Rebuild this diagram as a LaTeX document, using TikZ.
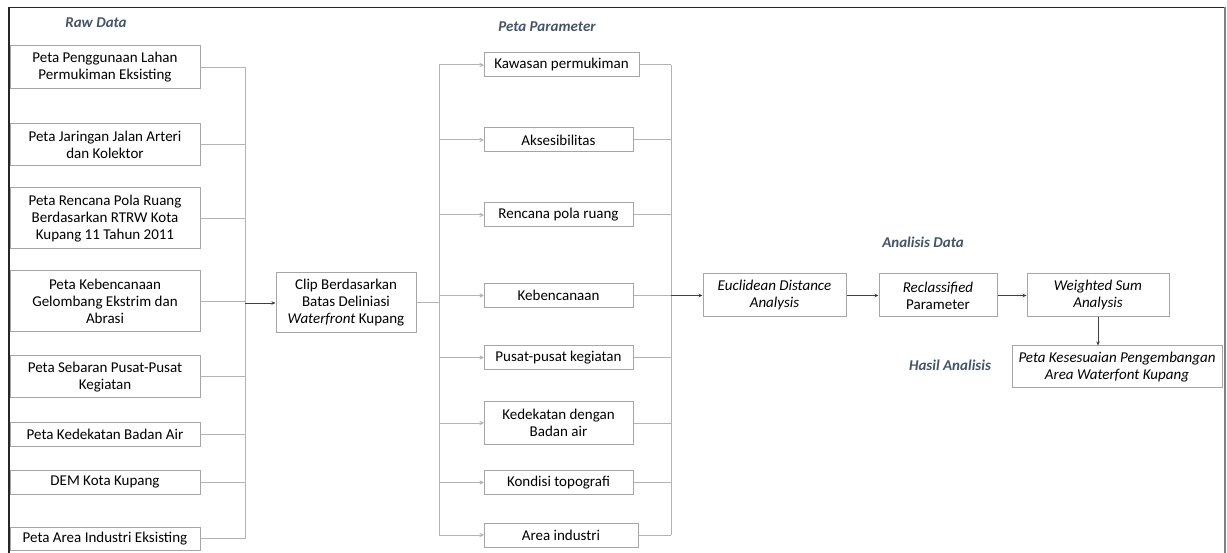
\documentclass[tikz,border=0pt]{standalone}
\usepackage{fontspec}
\setmainfont{Carlito}
\usetikzlibrary{arrows.meta}
\definecolor{lbl}{HTML}{44546A}
\definecolor{bord}{HTML}{A6A6A6}
\definecolor{conn}{HTML}{B4B4B4}
\begin{document}
\begin{tikzpicture}[x=1pt,y=-1pt,
  box/.style={draw=bord,line width=1pt,fill=white,align=center,inner sep=0pt,
    font=\fontsize{15}{17}\selectfont},
  lab/.style={text=lbl,font=\fontsize{15}{17}\selectfont\bfseries\itshape},
  con/.style={draw=conn,line width=1pt},
  garr/.style={con,-{To[length=4pt,width=4pt]}},
  darr/.style={draw=black!75,line width=0.8pt,-{Stealth[length=4pt,width=3.5pt]}}]
\useasboundingbox (0,0) rectangle (1227,553);
\fill[white] (0,0) rectangle (1227,553);
% frame
\draw[black!85,line width=1.3pt] (9,553) -- (9,7.5) -- (1225,7.5);
\draw[gray,line width=2pt] (1225,7) -- (1225,553);
% labels
\node[lab] (lraw) at (96,23) {Raw Data};
\node[lab] (lpar) at (547,27) {Peta Parameter};
\node[lab] (lana) at (923,242) {Analisis Data};
\node[lab] (lhas) at (950,365) {Hasil Analisis};
% raw data boxes
\node[box,minimum width=190,minimum height=43] (b1) at (105,67.5) {Peta Penggunaan Lahan\\Permukiman Eksisting};
\node[box,minimum width=190,minimum height=42] (b2) at (105,145) {Peta Jaringan Jalan Arteri\\dan Kolektor};
\node[box,minimum width=190,minimum height=61] (b3) at (105,218.5) {Peta Rencana Pola Ruang\\Berdasarkan RTRW Kota\\Kupang 11 Tahun 2011};
\node[box,minimum width=190,minimum height=61] (b4) at (105,301.5) {Peta Kebencanaan\\Gelombang Ekstrim dan\\Abrasi};
\node[box,minimum width=190,minimum height=42] (b5) at (105,377) {Peta Sebaran Pusat-Pusat\\Kegiatan};
\node[box,minimum width=190,minimum height=24] (b6) at (105,434) {Peta Kedekatan Badan Air};
\node[box,minimum width=190,minimum height=24] (b7) at (105,482) {DEM Kota Kupang};
\node[box,minimum width=190,minimum height=23] (b8) at (105,538.5) {Peta Area Industri Eksisting};
% clip
\node[box,minimum width=140,minimum height=60] (clip) at (346,303) {Clip Berdasarkan\\Batas Deliniasi\\\textit{Waterfront} Kupang};
% parameter boxes
\node[box,minimum width=155,minimum height=24] (p1) at (561.5,65) {Kawasan permukiman};
\node[box,minimum width=149,minimum height=24] (p2) at (558.5,140) {Aksesibilitas};
\node[box,minimum width=149,minimum height=24] (p3) at (558.5,215) {Rencana pola ruang};
\node[box,minimum width=149,minimum height=24] (p4) at (558.5,295.5) {Kebencanaan};
\node[box,minimum width=149,minimum height=24] (p5) at (558.5,357.5) {Pusat-pusat kegiatan};
\node[box,minimum width=149,minimum height=42] (p6) at (558.5,423) {Kedekatan dengan\\Badan air};
\node[box,minimum width=149,minimum height=24] (p7) at (558.5,482.5) {Kondisi topografi};
\node[box,minimum width=154,minimum height=24] (p8) at (561,535) {Area industri};
% analysis
\node[box,minimum width=143,minimum height=43] (e) at (774.5,295.5) {\textit{Euclidean Distance}\\\textit{Analysis}};
\node[box,minimum width=118,minimum height=43] (r) at (938,295.5) {\textit{Reclassified}\\Parameter};
\node[box,minimum width=142,minimum height=43] (w) at (1098,295.5) {\textit{Weighted Sum}\\\textit{Analysis}};
\node[box,minimum width=210,minimum height=42] (res) at (1117,367) {\textit{Peta Kesesuaian Pengembangan}\\\textit{Area Waterfont Kupang}};
% collector 1
\coordinate (c1t) at (245,67.5);
\coordinate (c1b) at (245,538.5);
\draw[con] (c1t) -- (c1b);
\foreach \n in {b1,b2,b3,b4,b5,b6,b7,b8} \draw[con] (\n.east) -- (\n.east -| c1t);
\draw[darr] (clip.west -| c1t) -- (clip.west);
% distributor
\coordinate (c2t) at (439,65);
\coordinate (c2b) at (439,535);
\draw[con] (c2t) -- (c2b);
\draw[con] (clip.east) -- (clip.east -| c2t);
\foreach \n in {p1,p2,p3,p4,p5,p6,p7,p8} \draw[garr] (\n.west -| c2t) -- (\n.west);
% collector 2
\coordinate (c3t) at (671,65);
\coordinate (c3b) at (671,535);
\draw[con] (c3t) -- (c3b);
\foreach \n in {p1,p2,p3,p4,p5,p6,p7,p8} \draw[con] (\n.east) -- (\n.east -| c3t);
\draw[darr] (e.west -| c3t) -- (e.west);
\draw[darr] (e) -- (r);
\draw[darr] (r) -- (w);
\draw[darr] (w.south) -- (w.south |- res.north);
\end{tikzpicture}
\end{document}
